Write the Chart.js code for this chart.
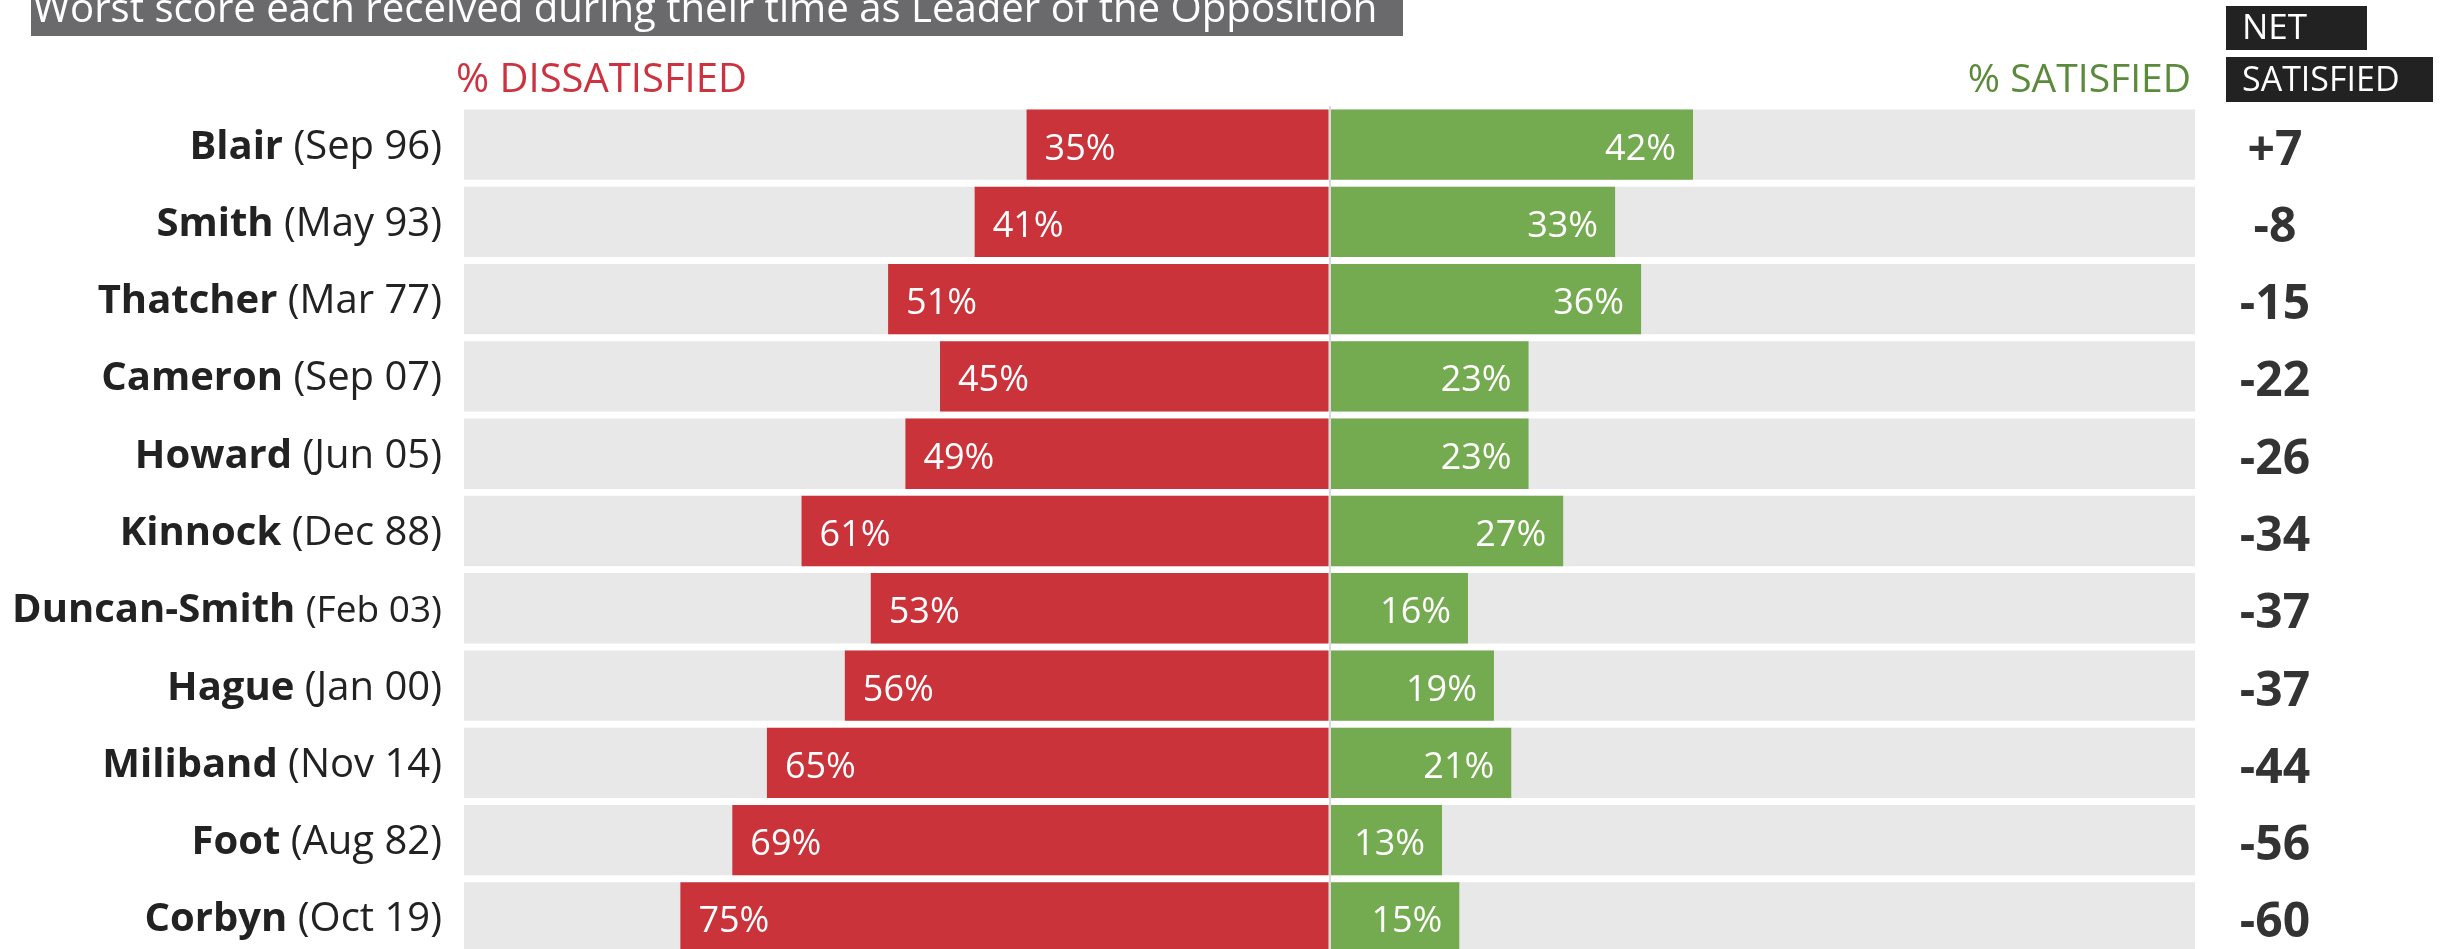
<!DOCTYPE html>
<html>
<head>
<meta charset="utf-8">
<title>Worst score as Leader of the Opposition</title>
<script src="https://cdn.jsdelivr.net/npm/chart.js@4.4.1/dist/chart.umd.min.js"></script>
<style>
    html, body {margin: 0; padding: 0; background: #fff; overflow: hidden;}
    #wrap {width: 2443px; height: 949px; overflow: hidden;}
</style>
</head>
<body>
<div id="wrap">
    <canvas id="chart" width="2443" height="960"></canvas>
</div>
<script>
// data
const leaders = ['Blair', 'Smith', 'Thatcher', 'Cameron', 'Howard', 'Kinnock', 'Duncan-Smith', 'Hague', 'Miliband', 'Foot', 'Corbyn'];
const dates = ['(Sep 96)', '(May 93)', '(Mar 77)', '(Sep 07)', '(Jun 05)', '(Dec 88)', '(Feb 03)', '(Jan 00)', '(Nov 14)', '(Aug 82)', '(Oct 19)'];
const dissatisfied = [35, 41, 51, 45, 49, 61, 53, 56, 65, 69, 75];
const satisfied = [42, 33, 36, 23, 23, 27, 16, 19, 21, 13, 15];
const netSatisfied = [7, -8, -15, -22, -26, -34, -37, -37, -44, -56, -60];
const axisMax = 100;

const titleText = 'Worst score each received during their time as Leader of the Opposition';

const RED = '#cb333b';
const GREEN = '#75ab50';
const FAMILY = '"Open Sans", "Noto Sans", sans-serif';
const font = (weight, size) => weight + ' ' + size + 'px ' + FAMILY;


const barLabels = {
    id: 'barLabels',
    afterDatasetsDraw(chart) {
        const ctx = chart.ctx;
        ctx.save();
        ctx.fillStyle = '#fff';
        ctx.font = font('normal', 36);
        ctx.textBaseline = 'alphabetic';

        // dissatisfied: at the outer (left) end of the red bar
        ctx.textAlign = 'left';
        chart.getDatasetMeta(1).data.forEach((bar, i) => {
            ctx.fillText(dissatisfied[i] + '%', bar.x + 18, bar.y + 15);
        });

        // satisfied: at the outer (right) end of the green bar
        ctx.textAlign = 'right';
        chart.getDatasetMeta(2).data.forEach((bar, i) => {
            ctx.fillText(satisfied[i] + '%', bar.x - 17, bar.y + 15);
        });
        ctx.restore();
    }
};

const sideText = {
    id: 'sideText',
    afterDraw(chart) {
        const {ctx, chartArea} = chart;
        const yScale = chart.scales.y;
        ctx.save();
        ctx.textBaseline = 'alphabetic';

        // title banner
        ctx.fillStyle = '#6a6a6c';
        ctx.fillRect(31, 0, 1372, 36);
        ctx.font = font('normal', 38);
        let w = ctx.measureText(titleText).width;
        let size = 38 * 1345 / w;
        ctx.font = font('normal', size);
        ctx.fillStyle = '#fff';
        ctx.textAlign = 'left';
        ctx.fillText(titleText, 33, 22);

        // column headers
        ctx.font = font('normal', 40);
        ctx.fillStyle = '#cc3340';
        ctx.textAlign = 'left';
        ctx.fillText('% DISSATISFIED', chartArea.left - 8, 92);
        ctx.font = font('normal', 39);
        ctx.fillStyle = '#5b8a3b';
        ctx.textAlign = 'right';
        ctx.fillText('% SATISFIED', chartArea.right - 4, 92);

        // net satisfied header boxes
        const netX = chartArea.right + 31;
        ctx.fillStyle = '#222';
        ctx.fillRect(netX, 6, 141, 44);
        ctx.fillRect(netX, 57, 207, 45);
        ctx.fillStyle = '#fff';
        ctx.textAlign = 'left';
        ctx.font = font('normal', 35);
        ctx.fillText('NET', netX + 16, 39);
        ctx.font = font('normal', 34);
        ctx.fillText('SATISFIED', netX + 16, 91);

        // leader names + month of the score
        const right = chartArea.left - 22;
        leaders.forEach((name, i) => {
            const y = yScale.getPixelForValue(i) + 14;
            ctx.font = font('bold', 40);
            const nameW = ctx.measureText(name).width;
            const spaceW = ctx.measureText(' ').width;
            let dateSize = 40;
            ctx.font = font('normal', dateSize);
            let dateW = ctx.measureText(dates[i]).width;
            const room = right - 12 - nameW - spaceW;
            if (dateW > room) {
                // squeeze the date when the name is long
                dateSize = dateSize * room / dateW;
                ctx.font = font('normal', dateSize);
                dateW = ctx.measureText(dates[i]).width;
            }
            ctx.fillStyle = '#222';
            ctx.textAlign = 'right';
            ctx.fillText(dates[i], right, y);
            ctx.font = font('bold', 40);
            ctx.fillText(name, right - dateW - spaceW, y);
        });

        // net satisfied column
        ctx.font = font('bold', 48);
        ctx.fillStyle = '#333';
        ctx.textAlign = 'center';
        netSatisfied.forEach((n, i) => {
            const y = yScale.getPixelForValue(i) + 20;
            ctx.fillText(n > 0 ? '+' + n : String(n), chartArea.right + 80, y);
        });

        ctx.restore();
    }
};


const ctx = document.getElementById('chart').getContext('2d');

new Chart(ctx, {
    type: 'bar',
    data: {
        labels: leaders,
        datasets: [{
            // grey track behind each row
            data: leaders.map(() => [-axisMax, axisMax]),
            backgroundColor: '#e8e8e8',
            order: 3
        }, {
            data: dissatisfied.map(v => -v),
            backgroundColor: RED,
            order: 1
        }, {
            data: satisfied,
            backgroundColor: GREEN,
            order: 1
        }]
    },
    options: {
        indexAxis: 'y',
        responsive: false,
        animation: false,
        devicePixelRatio: 1,
        layout: {
            padding: {left: 464, right: 248, top: 106, bottom: 4}
        },
        datasets: {
            bar: {
                grouped: false,
                barPercentage: 0.91,
                categoryPercentage: 1,
                borderWidth: 0
            }
        },
        scales: {
            x: {
                min: -axisMax,
                max: axisMax,
                ticks: {display: false, stepSize: axisMax},
                border: {display: false},
                grid: {
                    z: 1,
                    drawTicks: false,
                    lineWidth: 2,
                    color: c => c.tick && c.tick.value === 0 ? '#d9d9d9' : 'rgba(0,0,0,0)'
                }
            },
            y: {
                display: false
            }
        },
        plugins: {
            legend: {display: false},
            tooltip: {enabled: false}
        }
    },
    plugins: [barLabels, sideText]
});
</script>
</body>
</html>
